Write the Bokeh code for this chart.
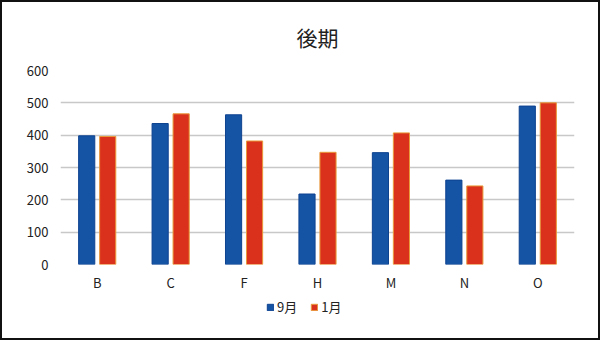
from bokeh.plotting import figure
from bokeh.layouts import column
from bokeh.models import ColumnDataSource, FactorRange, Range1d, Legend, LegendItem, SingleIntervalTicker
from bokeh.transform import dodge
from bokeh.embed import file_html
from bokeh.resources import INLINE

categories = ["B", "C", "F", "H", "M", "N", "O"]
sep = [398, 436, 463, 218, 346, 261, 490]   # 9月
jan = [396, 466, 382, 347, 407, 243, 500]   # 1月
series_names = ["9月", "1月"]
title_text = "後期"

BLUE, BLUE_LINE = "#1553a5", "#0e4390"
RED, RED_LINE = "#d9311b", "#e99a3a"
FONT = "Noto Sans CJK JP"

src = ColumnDataSource(dict(cat=categories, sep=sep, jan=jan))

p = figure(width=600, height=294, x_range=FactorRange(*categories),
           y_range=Range1d(0, 600), output_backend="svg", toolbar_location=None,
           min_border_left=60, min_border_right=26, min_border_top=70, min_border_bottom=26)
p.border_fill_alpha = 0
p.background_fill_alpha = 0

p.title.text = title_text
p.title.align = "center"
p.title.text_font = FONT
p.title.text_font_size = "21px"
p.title.text_font_style = "normal"
p.title.text_color = "#222222"
p.title.standoff = 37

p.vbar(x=dodge("cat", -0.143, range=p.x_range), top="sep", width=0.22, source=src,
       fill_color=BLUE, line_color=BLUE_LINE, line_width=1)
p.vbar(x=dodge("cat", 0.143, range=p.x_range), top="jan", width=0.22, source=src,
       fill_color=RED, line_color=RED_LINE, line_width=1)

p.outline_line_color = None
p.xgrid.grid_line_color = None
p.ygrid.grid_line_color = "#c8c8c8"
p.ygrid.grid_line_width = 1.5
p.yaxis.ticker = SingleIntervalTicker(interval=100)

for ax in (p.xaxis, p.yaxis):
    ax.axis_line_color = None
    ax.major_tick_line_color = None
    ax.minor_tick_line_color = None
    ax.major_tick_out = 0
    ax.major_tick_in = 0
    ax.minor_tick_out = 0
    ax.major_label_text_font = FONT
    ax.major_label_text_font_size = "13px"
    ax.major_label_text_color = "#222222"
p.yaxis.major_label_standoff = 12
p.xaxis.major_label_standoff = 8

# legend strip below the chart (swatches only; their data lie outside the view)
lg = figure(width=600, height=46, x_range=Range1d(0, 1), y_range=Range1d(0, 1),
            output_backend="svg", toolbar_location=None,
            min_border_left=0, min_border_right=0, min_border_top=0, min_border_bottom=0)
lg.border_fill_alpha = 0
lg.background_fill_alpha = 0
lg.axis.visible = False
lg.grid.grid_line_color = None
lg.outline_line_color = None
swatch = ColumnDataSource(dict(x=[-5], y=[-5]))
g1 = lg.rect(x="x", y="y", width=0.1, height=0.1, source=swatch, fill_color=BLUE, line_color=BLUE_LINE)
g2 = lg.rect(x="x", y="y", width=0.1, height=0.1, source=swatch, fill_color=RED, line_color=RED_LINE)
legend = Legend(items=[LegendItem(label=series_names[0], renderers=[g1]),
                       LegendItem(label=series_names[1], renderers=[g2])],
                orientation="horizontal", location=(206, 24),
                glyph_width=8, glyph_height=8, label_standoff=3, spacing=13,
                label_text_font=FONT, label_text_font_size="13px",
                label_text_color="#222222", border_line_color=None,
                background_fill_alpha=0, padding=0, margin=0)
lg.add_layout(legend)

layout = column(p, lg, spacing=0,
                styles={"outline": "2px solid #111111", "outline-offset": "-2px",
                        "background-color": "white"})

open("out.html", "w").write(file_html(layout, INLINE))
